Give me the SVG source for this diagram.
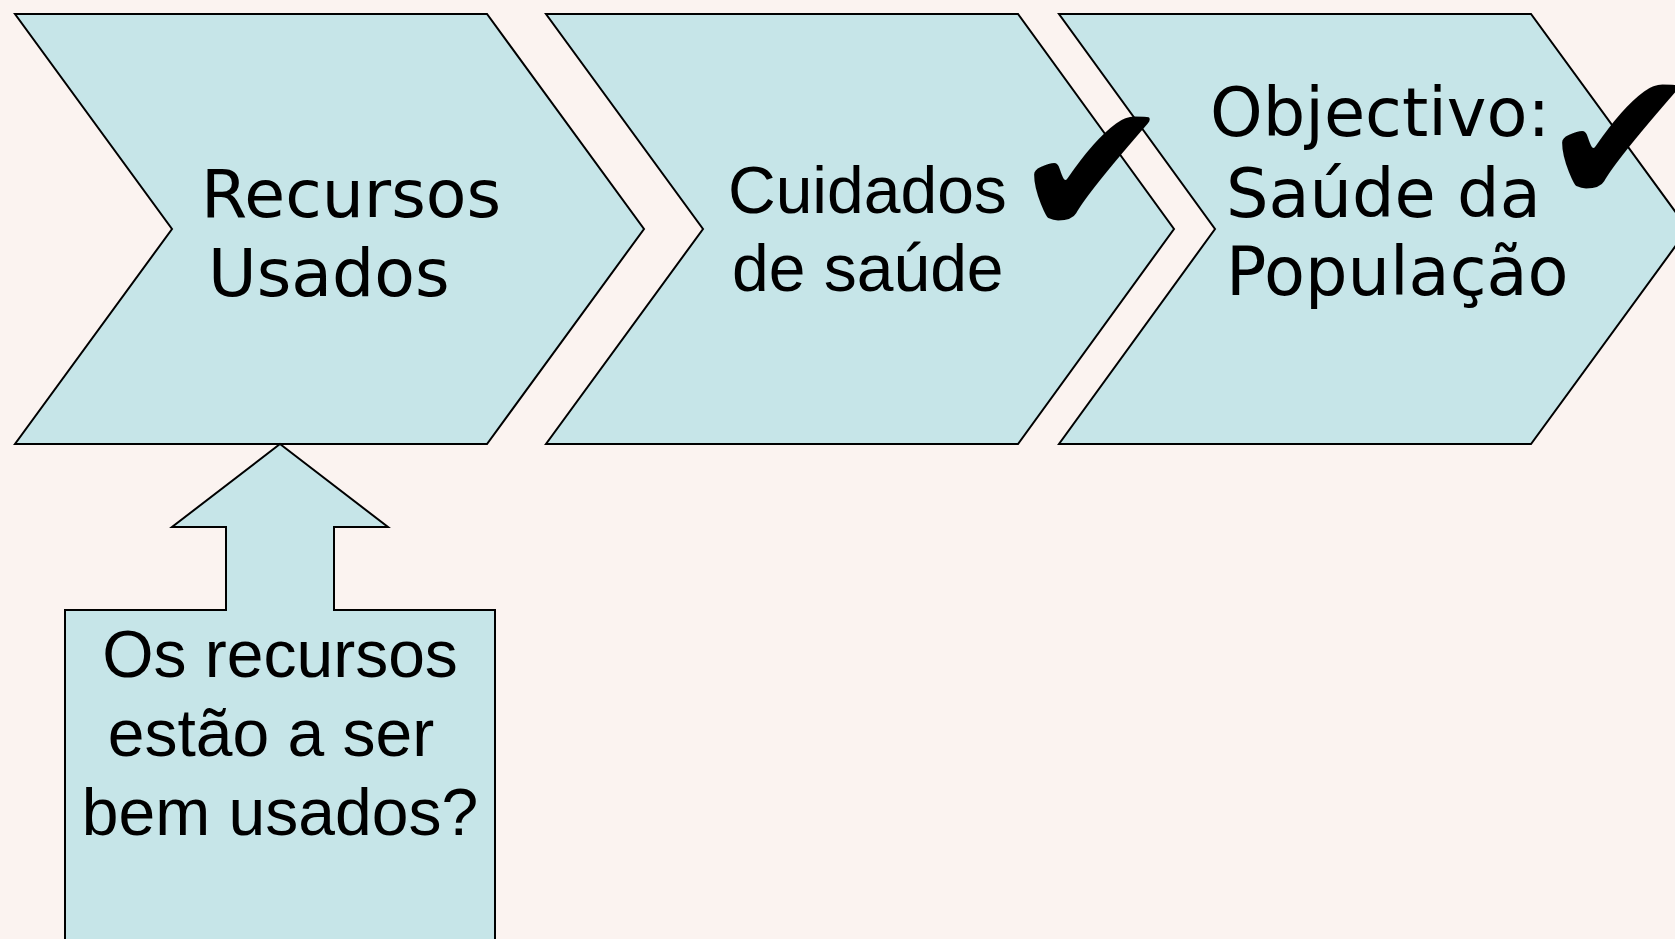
<svg xmlns="http://www.w3.org/2000/svg" width="1675" height="939" viewBox="0 0 1675 939">
<style>
.shape{fill:#C6E5E8;stroke:#000;stroke-width:2;stroke-linejoin:miter}
.dv{font-family:"DejaVu Sans",sans-serif;font-size:66.5px;fill:#000}
.dv3{font-family:"DejaVu Sans",sans-serif;font-size:67px;fill:#000}
.ar{font-family:"Liberation Sans",Arial,sans-serif;font-size:66px;fill:#000}
.ck{font-family:"DejaVu Sans",sans-serif;font-size:191px;fill:#000}
</style>
<rect width="1675" height="939" fill="#FBF3F0"/>
<g id="recursos">
<polygon class="shape" points="15,14 487,14 644,229 487,444 15,444 172,229"/>
<text class="dv" x="201" y="217">Recursos</text>
<text class="dv" x="208" y="296">Usados</text>
</g>
<g id="cuidados">
<polygon class="shape" points="546,14 1018,14 1174,229 1018,444 546,444 703,229"/>
<text class="ar" x="728" y="213">Cuidados</text>
<text class="ar" x="732" y="291">de saúde</text>
</g>
<g id="objectivo">
<polygon class="shape" points="1059,14 1531,14 1688,229 1531,444 1059,444 1215,229"/>
<text class="dv3" x="1210" y="136">Objectivo:</text>
<text class="dv3" x="1226" y="217">Saúde da</text>
<text class="dv3" x="1226" y="295">População</text>
</g>
<g id="checks">
<text class="ck" x="1012" y="237">✔</text>
<text class="ck" x="1540" y="205">✔</text>
</g>
<g id="connectors">
<polygon class="shape" points="280,444 388,527 334,527 334,610 495,610 495,945 65,945 65,610 226,610 226,527 172,527"/>
</g>
<g id="pergunta">
<text class="ar" x="280" y="677" text-anchor="middle">Os recursos</text>
<text class="ar" x="271" y="756" text-anchor="middle">estão a ser</text>
<text class="ar" x="280" y="835" text-anchor="middle">bem usados?</text>
</g>
</svg>
